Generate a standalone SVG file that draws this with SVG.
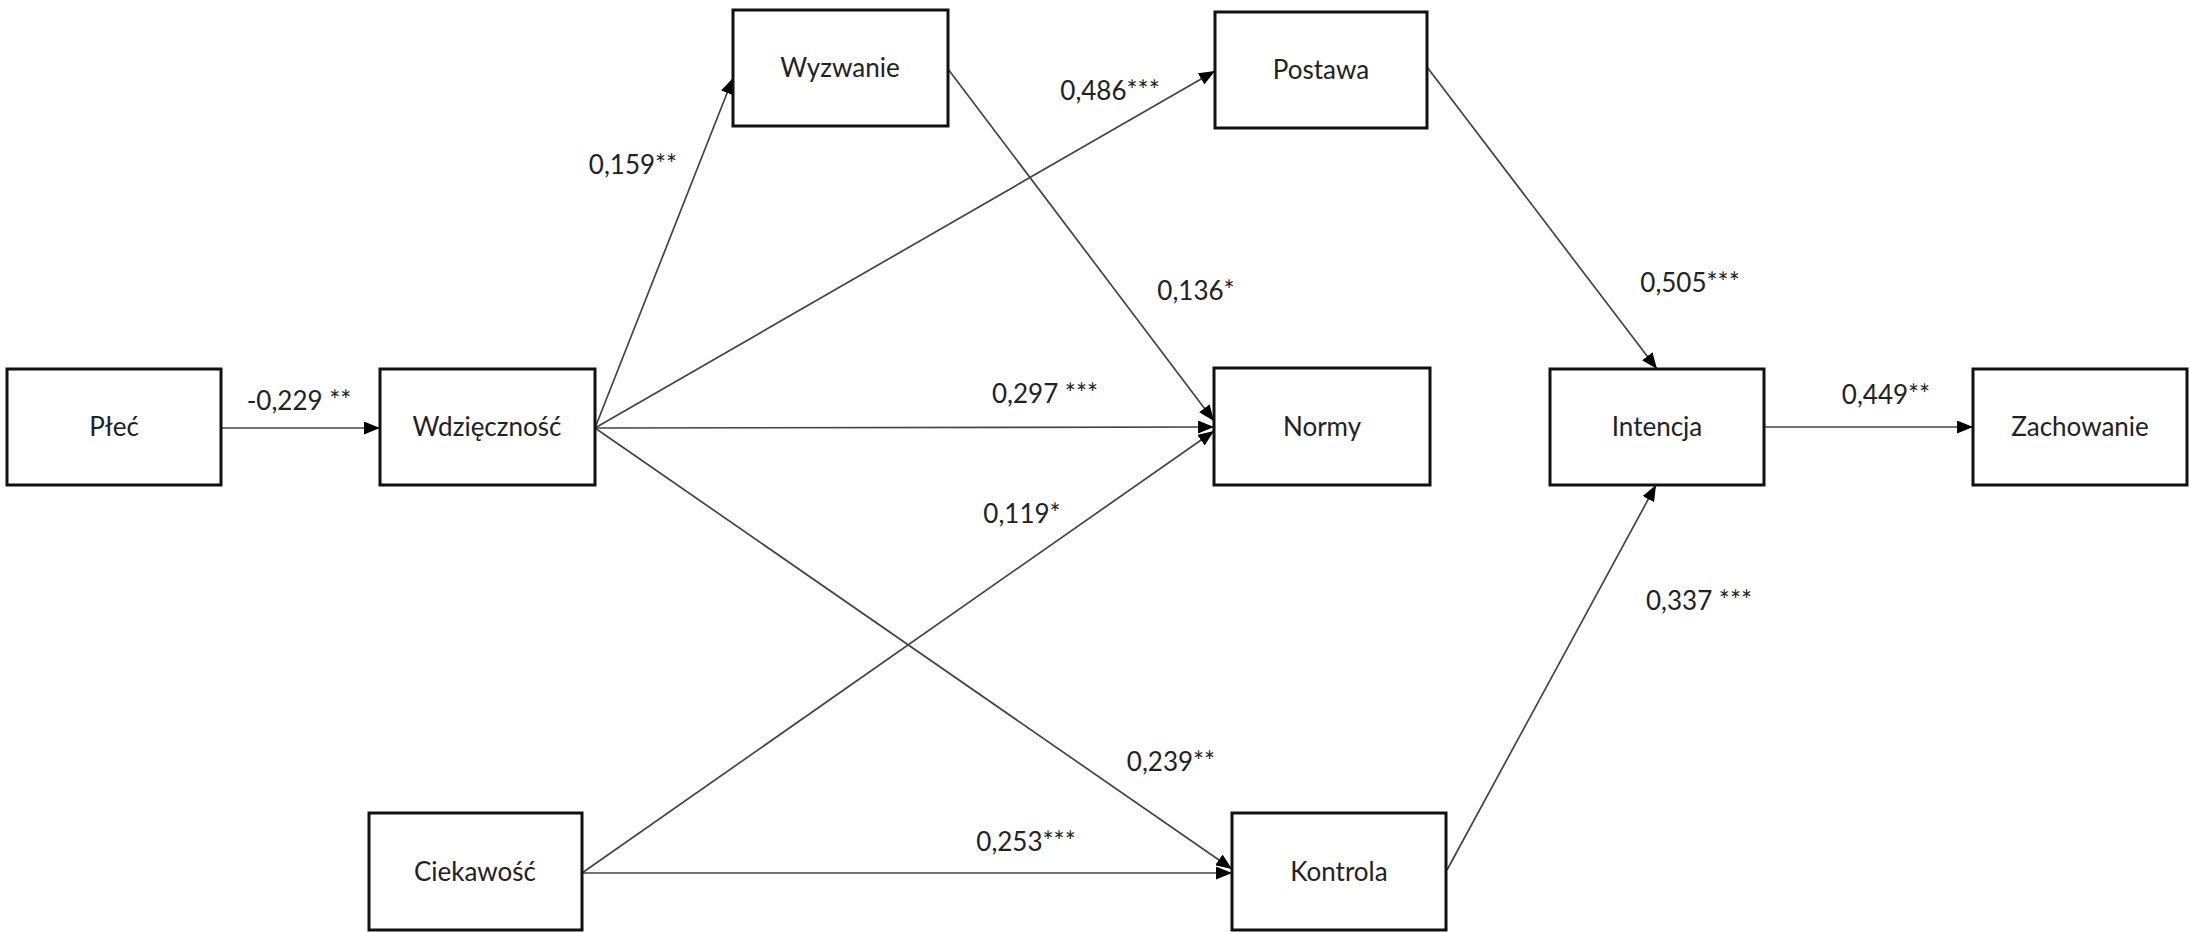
<svg xmlns="http://www.w3.org/2000/svg" width="2190" height="932" viewBox="0 0 2190 932">
  <style>
    .box { fill: #ffffff; stroke: #111111; stroke-width: 3; }
    .name { font-family: Lato, "Liberation Sans", sans-serif; font-size: 26px; fill: #222222; text-anchor: middle; }
    .coef { font-family: Lato, "Liberation Sans", sans-serif; font-size: 26px; fill: #222222; text-anchor: middle; }
    .edge { fill: none; stroke: #444444; stroke-width: 1.7; marker-end: url(#arr); }
  </style>
  <defs>
    <marker id="arr" viewBox="0 0 16 13" refX="16" refY="6.5" markerWidth="16" markerHeight="13" markerUnits="userSpaceOnUse" orient="auto">
      <path d="M0,0 L16,6.5 L0,13 z" fill="#000000"/>
    </marker>
  </defs>
  <rect width="2190" height="932" fill="#ffffff"/>

  <!-- path arrows -->
  <g id="connectors">
    <line class="edge" x1="221" y1="428" x2="380" y2="428"/>
    <line class="edge" x1="595" y1="428" x2="733" y2="78"/>
    <line class="edge" x1="595" y1="428" x2="1215" y2="71"/>
    <line class="edge" x1="595" y1="428" x2="1214" y2="427"/>
    <line class="edge" x1="595" y1="428" x2="1232" y2="869"/>
    <line class="edge" x1="948" y1="69" x2="1214" y2="421"/>
    <line class="edge" x1="582" y1="873" x2="1214" y2="431"/>
    <line class="edge" x1="582" y1="873" x2="1232" y2="873"/>
    <line class="edge" x1="1427" y1="67" x2="1657" y2="369"/>
    <line class="edge" x1="1447" y1="870" x2="1656" y2="485"/>
    <line class="edge" x1="1764" y1="427" x2="1973" y2="427"/>
  </g>

  <!-- path coefficients -->
  <g id="coefficients">
    <text class="coef" x="299" y="410">-0,229 **</text>
    <text class="coef" x="633" y="174">0,159**</text>
    <text class="coef" x="1110" y="100">0,486***</text>
    <text class="coef" x="1196" y="300">0,136*</text>
    <text class="coef" x="1045" y="403">0,297 ***</text>
    <text class="coef" x="1022" y="523">0,119*</text>
    <text class="coef" x="1171" y="771">0,239**</text>
    <text class="coef" x="1026" y="851">0,253***</text>
    <text class="coef" x="1690" y="292">0,505***</text>
    <text class="coef" x="1699" y="610">0,337 ***</text>
    <text class="coef" x="1886" y="404">0,449**</text>
  </g>

  <g id="plec">
    <rect class="box" x="7" y="369" width="214" height="116"/>
    <text class="name" x="114" y="436">Płeć</text>
  </g>
  <g id="wdziecznosc">
    <rect class="box" x="380" y="369" width="215" height="116"/>
    <text class="name" x="487" y="436">Wdzięczność</text>
  </g>
  <g id="wyzwanie">
    <rect class="box" x="733" y="10" width="215" height="116"/>
    <text class="name" x="840" y="77">Wyzwanie</text>
  </g>
  <g id="postawa">
    <rect class="box" x="1215" y="12" width="212" height="116"/>
    <text class="name" x="1321" y="79">Postawa</text>
  </g>
  <g id="normy">
    <rect class="box" x="1214" y="368" width="216" height="117"/>
    <text class="name" x="1322" y="436">Normy</text>
  </g>
  <g id="intencja">
    <rect class="box" x="1550" y="369" width="214" height="116"/>
    <text class="name" x="1657" y="436">Intencja</text>
  </g>
  <g id="zachowanie">
    <rect class="box" x="1973" y="369" width="214" height="116"/>
    <text class="name" x="2080" y="436">Zachowanie</text>
  </g>
  <g id="ciekawosc">
    <rect class="box" x="369" y="813" width="213" height="117"/>
    <text class="name" x="475" y="881">Ciekawość</text>
  </g>
  <g id="kontrola">
    <rect class="box" x="1232" y="813" width="214" height="117"/>
    <text class="name" x="1339" y="881">Kontrola</text>
  </g>
</svg>
